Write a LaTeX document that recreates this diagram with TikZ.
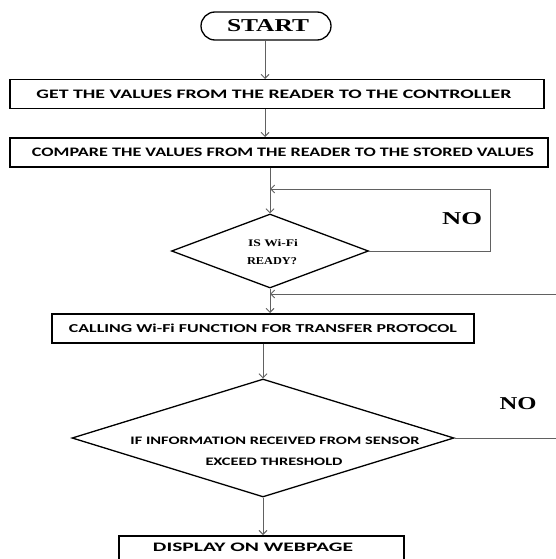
\documentclass[tikz,border=0pt]{standalone}
\usepackage{fontspec}
\usepackage{graphicx}
\usetikzlibrary{shapes.geometric,arrows.meta}
\newfontfamily\boxfont{Carlito}
\newfontfamily\tnr{Liberation Serif}
\newcommand{\fitt}[3]{\resizebox{#1}{#2}{#3}}
\tikzset{
  flowbox/.style={draw=black, line width=1.5pt, rectangle, inner sep=0pt, anchor=north west},
  termbox/.style={draw=black, line width=1.3pt, rounded rectangle, inner sep=0pt},
  decide/.style={draw=black, line width=1.3pt, diamond, inner sep=0pt},
  txt/.style={inner sep=0pt, font=\boxfont\bfseries},
  stxt/.style={inner sep=0pt, font=\tnr\bfseries},
  conn/.style={draw=black!62, line width=0.9pt},
  arr/.style={conn, -{Straight Barb[length=4pt,width=8pt]}}
}
\usetikzlibrary{shapes.misc}
\begin{document}
\begin{tikzpicture}[x=1pt,y=-1pt]
\useasboundingbox (0,0) rectangle (556,559);
\clip (0,0) rectangle (556,559);
% nodes
\node[termbox, minimum width=130pt, minimum height=28pt] (start) at (266,26) {};
\node[stxt] (startt) at (268,26) {\fitt{82pt}{12pt}{START}};

\node[flowbox, minimum width=534pt, minimum height=29pt] (b1) at (9,79) {};
\node[txt] (b1t) at (274,94) {\fitt{475pt}{8.5pt}{GET THE VALUES FROM THE READER TO THE CONTROLLER}};

\node[flowbox, minimum width=538pt, minimum height=29pt] (b2) at (9,137) {};
\node[txt] (b2t) at (283,152) {\fitt{502pt}{8.5pt}{COMPARE THE VALUES FROM THE READER TO THE STORED VALUES}};

\node[decide, minimum width=197pt, minimum height=74pt] (d1) at (270,251) {};
\node[stxt] (d1a) at (273,243) {\fitt{50pt}{7pt}{IS Wi-Fi}};
\node[stxt] (d1b) at (272,261) {\fitt{50pt}{7pt}{READY?}};
\node[stxt] (no1) at (462,219) {\fitt{40pt}{12pt}{NO}};

\node[flowbox, minimum width=422pt, minimum height=29pt] (b3) at (51,313) {};
\node[txt] (b3t) at (263,328) {\fitt{388pt}{8.5pt}{CALLING Wi-Fi FUNCTION FOR TRANSFER PROTOCOL}};

\node[decide, minimum width=382pt, minimum height=118pt] (d2) at (263,438) {};
\node[txt] (d2a) at (275,441) {\fitt{289pt}{7.5pt}{IF INFORMATION RECEIVED FROM SENSOR}};
\node[txt] (d2b) at (274,462) {\fitt{137pt}{7.5pt}{EXCEED THRESHOLD}};
\node[stxt] (no2) at (518,404) {\fitt{37pt}{12pt}{NO}};

\node[flowbox, minimum width=285pt, minimum height=32pt] (b4) at (118,535) {};
\node[txt] (b4t) at (253,547) {\fitt{200pt}{8.5pt}{DISPLAY ON WEBPAGE}};

% free ends
\coordinate (loopTR) at (490,189);
\coordinate (inR) at (556,294);
\coordinate (outR) at (556,438);

% connectors
\draw[arr] (start.south -| 265,0) -- (b1.north -| 265,0);
\draw[arr] (b1.south -| 265,0) -- (b2.north -| 265,0);
\draw[arr] (b2.south -| d1.north) -- (d1.north);
\draw[arr] (d1.east) -| (loopTR) -- (loopTR -| d1.north);
\draw[arr] (d1.south) -- (d1.south |- b3.north);
\draw[arr] (inR) -- (inR -| d1.south);
\draw[arr] (b3.south -| d2.north) -- (d2.north);
\draw[conn] (d2.east) -- (outR);
\draw[arr] (d2.south) -- (d2.south |- b4.north);
\end{tikzpicture}
\end{document}
